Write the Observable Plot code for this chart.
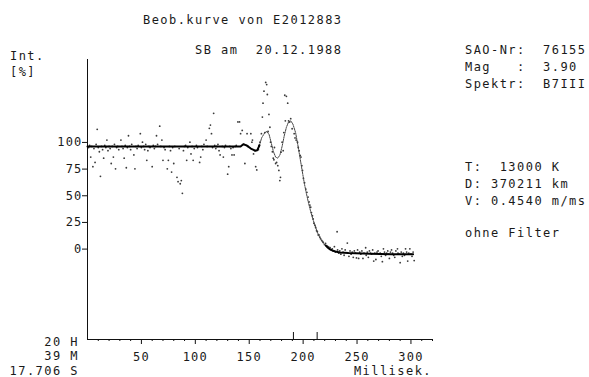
<!DOCTYPE html>
<html><head><meta charset="utf-8">
<script src="https://cdn.jsdelivr.net/npm/d3@7"></script>
<script src="https://cdn.jsdelivr.net/npm/@observablehq/plot@0.6"></script>
<style>
body{margin:0;background:#fff;}
#wrap{position:relative;width:589px;height:377px;overflow:hidden;background:#fff;}
.t{position:absolute;font-family:"DejaVu Sans Mono",monospace;font-size:12px;line-height:12px;letter-spacing:1.45px;color:#1a1a1a;white-space:pre;}
</style></head><body><div id="wrap"></div>
<script>
// Observed intensity samples [ms, %]
const obsMs = [1,2,3,4,5,6,7,8,9,10,11,12,13,14,15,16,17,18,19,20,21,22,23,24,25,26,27,28,29,31,32,33,34,35,36,37,38,39,40,41,43,44,45,46,47,49,50,51,52,53,54,55,56,57,58,60,61,62,63,64,65,67,68,69,70,71,72,74,75,76,77,78,79,80,81,83,84,85,86,87,88,89,90,91,92,93,95,96,97,98,99,
101,102,104,105,106,107,108,110,111,113,114,115,116,117,118,119,120,121,122,123,125,126,127,128,130,131,132,133,134,135,136,137,138,139.5,141,142,143.5,145,146,147,148,149,
151.5,152.5,153,154,155,156,157,158.5,159,160,161.3,162.2,162.8,163.7,164.5,165.3,166.2,166.8,167.5,168.3,169.2,169.8,170.5,171.5,172.3,172.9,173.4,174.5,175.4,176.5,177.5,178.4,179,179.5,180.5,181.5,182.1,183,183.5,184.5,185.7,186.5,187.5,188.5,189.8,
191.7,192.5,193.5,194.8,195.5,196.3,197.3,198,198.8,199.4,200.3,201.3,202.5,203.5,204.6,205.5,206.3,207,207.7,208.6,209.3,210,211,211.6,212.5,213.2,214,214.7,215.5,216.2,217.2,218,218.7,219.8,220.8,222,223,223.8,225,226,227,228,229,230,231.5,232,233,234,235,236,237,238,239,241,241.5,
242.5,243.5,244.5,245.5,246.5,247.5,248.5,249.5,250.5,251.5,252.5,253.5,254.5,255.5,256.5,258,258.5,259.5,260.5,261.5,262.5,263.5,264.5,265.5,266.5,267.5,268.5,269.5,270.5,271.5,272.5,273.5,274.5,275.5,276.5,277.5,278.5,279.5,
280,281,282,283,284,285,286,287.5,288,289,290,291,292,293,294,295,296,297,298,299,300,301,302,303];
const obsPct = [99,101,90,100,81,98,85,102,116,99,95,72,100,97,89,101,99,106,96,100,98,84,100,90,102,79,99,100,97,106,100,98,89,101,80,99,110,100,97,102,92,79,100,98,101,112,99,104,100,97,102,87,96,100,99,81,101,98,100,110,102,119,100,106,87,99,97,79,87,100,96,76,99,84,100,71,67,98,65,68,56,96,100,101,87,99,104,93,100,87,98,
101,99,85,90,100,97,102,106,100,117,120,112,99,131,101,98,100,102,96,92,100,90,99,101,74,81,100,98,92,99,92,100,101,123,123,112,115,102,84,101,112,100,
112,104,106,93,96,81,78,97,101,104,112,127.5,140.6,151.8,113,160,158,148.7,114,130,118,104,100,95,89,87.5,99,84,85,82,77.5,68,71,94.6,104,96,113,148,124,147,140.6,124,122.8,126,116.6,
112,108,106,104,99,96,91.5,90,82,77.5,70,66,60,57,52.5,48,45,43,38,35,32,28,26,24,21,20,17,17,15,13.5,12,11,10,8,9,7,6,5.6,5,3,4,2,6,1,20,3,0,2,-1,4,1,-2,3,9.4,0,
-3,2,-1,1,-4,2,0,-4.5,3,-5,1,-1,2,-5,0,5,-2,1,-4,2,0,-1,3,-7.5,0,-6,1,2,-1,0,-3,-8,4,1,-2,0,2,-1,
-5,1,3,0,-2,-4,2,4,0,-1,-9,1,-3,0,-2,4,1,-7.5,0,4,-1,-3,1,-7];
// Fitted model curve [ms, %]
const fitMs  = [0,142,144.5,147.5,151.5,155.5,157.5,159.5,161.5,164.5,166.5,168.5,170.5,172.5,174.5,176.5,178.5,180.5,182.5,184.5,186.5,188.5,190.5,193,195,197,199,201,203,205,207,209,211,213,215,217,219,221,223,225,227,230,234,242,262,282,302];
const fitPct = [100,100,102,101,98,96,96.5,101,108,113,114,111,103,95,90,89,92,100,110,118,123,124,121,113,102,90,78,66,56,47,39,32,26,20,15.5,12,9,7,5,3.5,2.5,1.5,0.5,0,-0.5,-1,-1];
// Axis ticks
const xTickLabels = [50,100,150,200,250,300];
const xMinorTicks = [10,20,30,40,60,70,80,90,110,120,130,140,160,170,180,190,210,220,230,240,260,270,280,290,310,320];
const yTickLabels = [0,25,50,75,100];
const eventMarks = [191,213];
const xDomain = [0,320];
const yDomain = [-81,181.5];

const obs = obsMs.map((t,i)=>({t, v: obsPct[i]}));
const fit = fitMs.map((t,i)=>({t, v: fitPct[i]}));
const flatBefore = d => d.t <= 159.5;
const transition = d => d.t >= 157.5 && d.t <= 223;
const flatAfter = d => d.t >= 221;

const chart = Plot.plot({
  width: 589, height: 377,
  marginLeft: 87, marginRight: 157, marginTop: 59, marginBottom: 38,
  x: {domain: xDomain},
  y: {domain: yDomain},
  style: {fontFamily: "DejaVu Sans Mono, monospace", fontSize: "12px", color: "#1a1a1a", background: "white", letterSpacing: "1.2px"},
  marks: [
    Plot.axisY(yTickLabels, {tickSize: 5, tickPadding: 0, dy: -4, stroke: "#111", label: null}),
    Plot.axisX(xMinorTicks, {tickSize: 2, text: null, stroke: "#111", label: null}),
    Plot.axisX(xTickLabels, {tickSize: 5, tickPadding: 8, stroke: "#111", label: null}),
    Plot.ruleX(eventMarks, {insetTop: 273, stroke: "#111"}),
    Plot.ruleY([yDomain[0]], {stroke: "#111"}),
    Plot.ruleX([xDomain[0]], {stroke: "#111"}),
    Plot.dot(obs, {x: "t", y: "v", r: 0.9, fill: "#3a3a3a", stroke: null}),
    Plot.line(fit, {filter: transition, x: "t", y: "v", stroke: "#444", strokeWidth: 1, strokeDasharray: "1.5 1"}),
    Plot.line(fit, {filter: flatBefore, x: "t", y: "v", stroke: "#000", strokeWidth: 2}),
    Plot.line(fit, {filter: flatAfter, x: "t", y: "v", stroke: "#000", strokeWidth: 2})
  ]
});
const wrap = document.getElementById("wrap");
wrap.appendChild(chart);

function label(text, x, baseline, align) {
  const d = document.createElement("div");
  d.className = "t";
  d.textContent = text;
  d.style.top = (baseline - 10) + "px";
  if (align === "right") d.style.right = (589 - x) + "px"; else d.style.left = x + "px";
  wrap.appendChild(d);
}
label("Beob.kurve von E2012883", 143, 24);
label("Int.", 10, 60);
label("[%]", 10, 76);
label("SB am  20.12.1988", 195, 54);
label("SAO-Nr:  76155", 465, 54);
label("Mag   :  3.90", 465, 71);
label("Spektr:  B7III", 465, 88);
label("T:  13000 K", 465, 171);
label("D: 370211 km", 465, 188);
label("V: 0.4540 m/ms", 465, 205);
label("ohne Filter", 465, 237);
label("20 H", 79, 346, "right");
label("39 M", 79, 360, "right");
label("17.706 S", 79, 375, "right");
label("Millisek.", 432, 375, "right");
</script>
</body></html>
